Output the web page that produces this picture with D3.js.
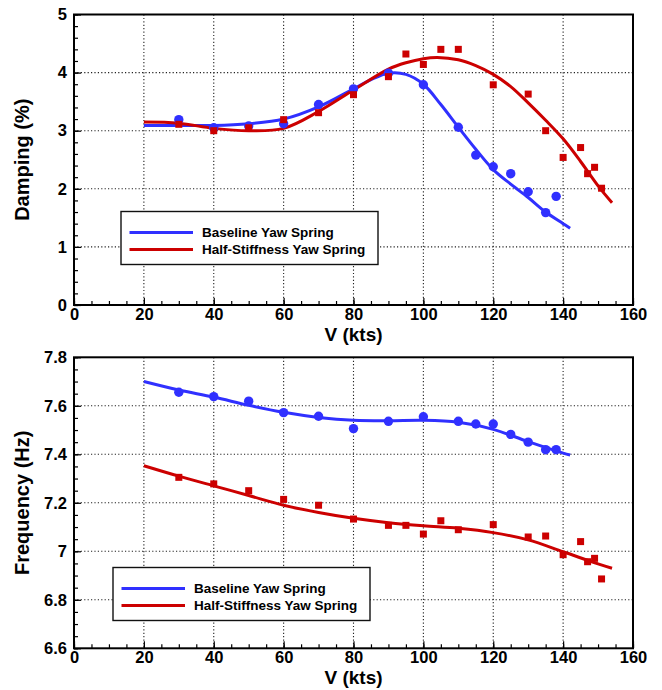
<!DOCTYPE html>
<html>
  <head>
    <meta charset="utf-8">
    <style>
      body { margin: 0; background: #fff; }
      svg { display: block; }
      text { font-family: "Liberation Sans", Arial, sans-serif; font-weight: bold; fill: #000; }
      .grid line { stroke: #222; stroke-width: 1.1px; stroke-dasharray: 1.2,2.2; }
      .axis path { display: none; }
      .axis line { stroke: #000; stroke-width: 1.2px; }
      .axis text { font-size: 16.5px; }
      .frame { fill: none; stroke: #000; stroke-width: 2px; }
      .fit { fill: none; stroke-width: 3px; }
      .legend rect { fill: #fff; stroke: #111; stroke-width: 1.4px; }
      .legend text { font-size: 13.5px; }
    </style>
  </head>
  <body>
    <svg width="662" height="690"></svg>
    <script src="https://cdn.jsdelivr.net/npm/d3@7"></script>
    <script>
      // tick values
      var vTicks = [0, 20, 40, 60, 80, 100, 120, 140, 160];
      var dampTicks = [0, 1, 2, 3, 4, 5];
      var freqTicks = [6.6, 6.8, 7, 7.2, 7.4, 7.6, 7.8];

      // measured points (V in kts)
      var baseV = [30, 40, 50, 60, 70, 80, 90, 100, 110, 115, 120, 125, 130, 135, 138];
      var baseDamp = [3.19, 3.05, 3.08, 3.12, 3.45, 3.72, 3.99, 3.79, 3.06, 2.58, 2.38, 2.26, 1.95, 1.59, 1.87];
      var baseFreq = [7.656, 7.638, 7.619, 7.572, 7.557, 7.506, 7.536, 7.555, 7.536, 7.525, 7.525, 7.482, 7.45, 7.419, 7.419];

      var halfV = [30, 40, 50, 60, 70, 80, 90, 95, 100, 105, 110, 120, 130, 135, 140, 145, 147, 149, 151];
      var halfDamp = [3.11, 3.0, 3.05, 3.19, 3.31, 3.62, 3.93, 4.32, 4.14, 4.40, 4.40, 3.79, 3.63, 3.0, 2.54, 2.71, 2.26, 2.37, 2.01];
      var halfFreq = [7.305, 7.278, 7.25, 7.214, 7.19, 7.133, 7.107, 7.107, 7.071, 7.126, 7.089, 7.11, 7.059, 7.063, 6.986, 7.04, 6.957, 6.971, 6.886];

      // curve fits
      var baseFitDampV = [20, 30, 40, 50, 60, 70, 80, 85, 90, 95, 100, 105, 110, 115, 120, 125, 130, 135, 140, 142];
      var baseFitDamp = [3.09, 3.09, 3.09, 3.12, 3.20, 3.41, 3.72, 3.88, 3.99, 3.97, 3.80, 3.45, 3.06, 2.68, 2.33, 2.08, 1.85, 1.60, 1.40, 1.32];
      var halfFitDampV = [20, 30, 40, 50, 60, 70, 80, 90, 95, 100, 104, 110, 115, 120, 125, 130, 135, 140, 145, 150, 154];
      var halfFitDamp = [3.15, 3.13, 3.04, 3.00, 3.04, 3.33, 3.70, 4.06, 4.17, 4.24, 4.26, 4.22, 4.12, 3.97, 3.76, 3.48, 3.18, 2.86, 2.47, 2.05, 1.76];

      var baseFitFreqV = [20, 30, 40, 50, 60, 70, 80, 90, 100, 110, 120, 130, 140, 142];
      var baseFitFreq = [7.700, 7.665, 7.636, 7.602, 7.573, 7.552, 7.540, 7.538, 7.540, 7.532, 7.503, 7.452, 7.405, 7.397];
      var halfFitFreqV = [20, 30, 40, 50, 60, 70, 80, 90, 100, 110, 120, 130, 140, 150, 154];
      var halfFitFreq = [7.353, 7.31, 7.27, 7.23, 7.19, 7.16, 7.136, 7.118, 7.105, 7.095, 7.077, 7.047, 6.998, 6.948, 6.93];

      var seriesNames = ["Baseline Yaw Spring", "Half-Stiffness Yaw Spring"];
      var blue = "#3030ff", red = "#cc0000";

      var svg = d3.select("svg");
      svg.append("rect").attr("width", 662).attr("height", 690).attr("fill", "#fff");

      var x = d3.scaleLinear().domain([0, 160]).range([74, 633]);

      function zip(a, b) { return a.map(function(v, i) { return [v, b[i]]; }); }

      function panel(opt) {
        var y = opt.y;
        var g = svg.append("g");
        var top = y.range()[1], bot = y.range()[0];

        // dotted grid
        var grid = g.append("g").attr("class", "grid");
        grid.selectAll(".gx").data(vTicks.slice(1, -1)).enter().append("line")
          .attr("x1", x).attr("x2", x).attr("y1", top).attr("y2", bot);
        grid.selectAll(".gy").data(opt.ticks.slice(1, -1)).enter().append("line")
          .attr("x1", x.range()[0]).attr("x2", x.range()[1])
          .attr("y1", function(d) { return y(d); }).attr("y2", function(d) { return y(d); });

        // axes with inward ticks
        var xMinor = d3.range(0, 161, 5);
        g.append("g").attr("class", "axis").attr("transform", "translate(0," + bot + ")")
          .call(d3.axisBottom(x).tickValues(xMinor).tickSize(-4).tickFormat(""));
        g.append("g").attr("class", "axis").attr("transform", "translate(0," + bot + ")")
          .call(d3.axisBottom(x).tickValues(vTicks).tickSize(-7).tickPadding(3).tickFormat(d3.format("d")));
        g.append("g").attr("class", "axis").attr("transform", "translate(" + x.range()[0] + ",0)")
          .call(d3.axisLeft(y).tickValues(opt.minor).tickSize(-4).tickFormat(""));
        g.append("g").attr("class", "axis").attr("transform", "translate(" + x.range()[0] + ",0)")
          .call(d3.axisLeft(y).tickValues(opt.ticks).tickSize(-7).tickPadding(7).tickFormat(d3.format("~g")));

        g.append("rect").attr("class", "frame")
          .attr("x", x.range()[0]).attr("y", top)
          .attr("width", x.range()[1] - x.range()[0]).attr("height", bot - top);

        // fitted curves
        var line = d3.line().x(function(d) { return x(d[0]); }).y(function(d) { return y(d[1]); })
          .curve(d3.curveCatmullRom.alpha(0.5));
        g.append("path").attr("class", "fit").attr("stroke", blue).attr("d", line(opt.baseFit));
        g.append("path").attr("class", "fit").attr("stroke", red).attr("d", line(opt.halfFit));

        // data markers
        g.selectAll(".bp").data(opt.basePts).enter().append("circle")
          .attr("cx", function(d) { return x(d[0]); }).attr("cy", function(d) { return y(d[1]); })
          .attr("r", 4.7).attr("fill", blue);
        g.selectAll(".hp").data(opt.halfPts).enter().append("rect")
          .attr("x", function(d) { return x(d[0]) - 3.5; }).attr("y", function(d) { return y(d[1]) - 3.5; })
          .attr("width", 7).attr("height", 7).attr("fill", red);

        // axis titles
        g.append("text").attr("x", (x.range()[0] + x.range()[1]) / 2).attr("y", bot + 36)
          .attr("text-anchor", "middle").style("font-size", "19px").text("V (kts)");
        g.append("text").attr("transform", "translate(29," + (top + bot) / 2 + ")rotate(-90)")
          .attr("text-anchor", "middle").style("font-size", "20px").text(opt.title);

        // legend
        var lg = g.append("g").attr("class", "legend").attr("transform", "translate(" + opt.legend[0] + "," + opt.legend[1] + ")");
        lg.append("rect").attr("width", 257).attr("height", 53);
        [blue, red].forEach(function(c, i) {
          var ly = 21 + i * 17;
          lg.append("line").attr("x1", 8.5).attr("x2", 72).attr("y1", ly).attr("y2", ly)
            .attr("stroke", c).attr("stroke-width", 3);
          lg.append("text").attr("x", 81).attr("y", ly + 4.8).text(seriesNames[i]);
        });
      }

      panel({
        y: d3.scaleLinear().domain([0, 5]).range([305, 14.5]),
        ticks: dampTicks,
        minor: d3.range(0, 26).map(function(i) { return i * 0.2; }),
        title: "Damping (%)",
        baseFit: zip(baseFitDampV, baseFitDamp),
        halfFit: zip(halfFitDampV, halfFitDamp),
        basePts: zip(baseV, baseDamp),
        halfPts: zip(halfV, halfDamp),
        legend: [121, 211.5]
      });

      panel({
        y: d3.scaleLinear().domain([6.6, 7.8]).range([648.3, 357.3]),
        ticks: freqTicks,
        minor: d3.range(0, 25).map(function(i) { return 6.6 + i * 0.05; }),
        title: "Frequency (Hz)",
        baseFit: zip(baseFitFreqV, baseFitFreq),
        halfFit: zip(halfFitFreqV, halfFitFreq),
        basePts: zip(baseV, baseFreq),
        halfPts: zip(halfV, halfFreq),
        legend: [113, 567.5]
      });
    </script>
  </body>
</html>
